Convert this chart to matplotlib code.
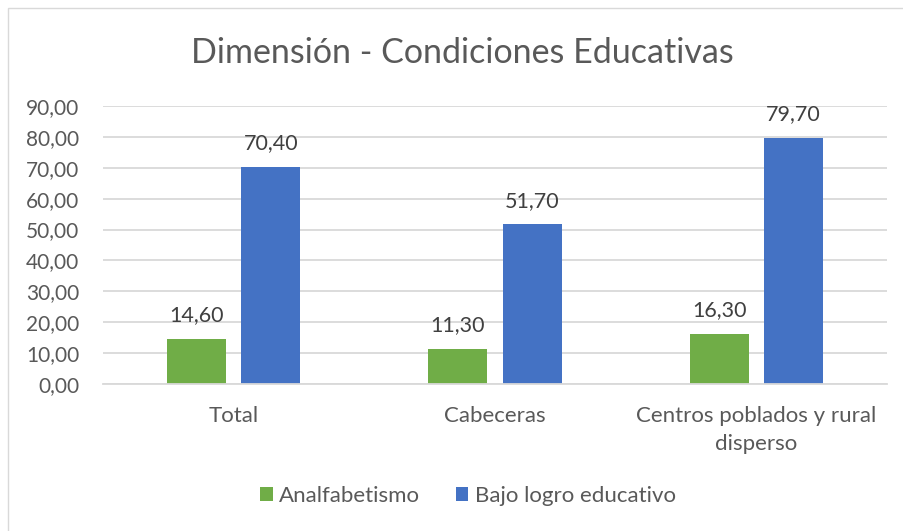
import matplotlib
matplotlib.use("Agg")
import matplotlib.pyplot as plt
import numpy as np
from matplotlib.patches import Rectangle, Patch

categories = ["Total", "Cabeceras", "Centros poblados y rural\ndisperso"]
series_names = ["Analfabetismo", "Bajo logro educativo"]
analfabetismo = [14.60, 11.30, 16.30]
bajo_logro = [70.40, 51.70, 79.70]
yticks = [0, 10, 20, 30, 40, 50, 60, 70, 80, 90]
title = "Dimensión - Condiciones Educativas"

colors = ["#70AD47", "#4472C4"]
text_color = "#595959"
grid_color = "#D9D9D9"

plt.rcParams['font.family'] = ['Lato', 'DejaVu Sans']

W, H = 904, 531
fig = plt.figure(figsize=(W / 100, H / 100), dpi=100)
fig.patch.set_facecolor("white")

# chart frame
fig.patches.append(Rectangle((8 / W, -0.1), 1.2, 1 - 8 / H + 0.1, transform=fig.transFigure,
                             fill=False, edgecolor=grid_color, linewidth=1.0))

ax = fig.add_axes([103 / W, 1 - 384 / H, (887 - 103) / W, (384 - 106) / H])
x = np.arange(len(categories))
bw = 0.226
off = 0.142
b1 = ax.bar(x - off, analfabetismo, bw, color=colors[0], label=series_names[0], zorder=3)
b2 = ax.bar(x + off, bajo_logro, bw, color=colors[1], label=series_names[1], zorder=3)

for bars, vals in ((b1, analfabetismo), (b2, bajo_logro)):
    for rect, v in zip(bars, vals):
        ax.annotate(f"{v:.2f}".replace(".", ","),
                    (rect.get_x() + rect.get_width() / 2, v),
                    xytext=(0, 17), textcoords="offset points",
                    ha="center", va="center", fontsize=15.5, color="#404040")

ax.set_xlim(-0.5, len(categories) - 0.5)
ax.set_ylim(0, 90)
ax.set_yticks(yticks)
ax.set_yticklabels([f"{t:.2f}".replace(".", ",") for t in yticks], fontsize=15, color=text_color)
ax.set_xticks(x)
ax.set_xticklabels(categories, fontsize=16, color=text_color, linespacing=1.5)
ax.tick_params(axis="both", length=0)
ax.tick_params(axis="y", pad=17)
ax.tick_params(axis="x", pad=16)
ax.yaxis.grid(True, color=grid_color, linewidth=1.3, zorder=0)
for s in ["top", "right", "left"]:
    ax.spines[s].set_visible(False)
ax.spines["bottom"].set_color(grid_color)
ax.spines["bottom"].set_linewidth(1.3)
ax.spines["bottom"].set_zorder(4)

fig.text(462 / W, 1 - 53 / H, title, ha="center", va="center", fontsize=24.5, color=text_color)

handles = [Patch(facecolor=c) for c in colors]
fig.legend(handles, series_names, loc="center", bbox_to_anchor=(468 / W, 1 - 496 / H),
           ncol=2, frameon=False, fontsize=16, labelcolor=text_color,
           handlelength=0.55, handleheight=0.55, handletextpad=0.3, columnspacing=1.6)

fig.savefig("out.png", dpi=100, facecolor="white")
